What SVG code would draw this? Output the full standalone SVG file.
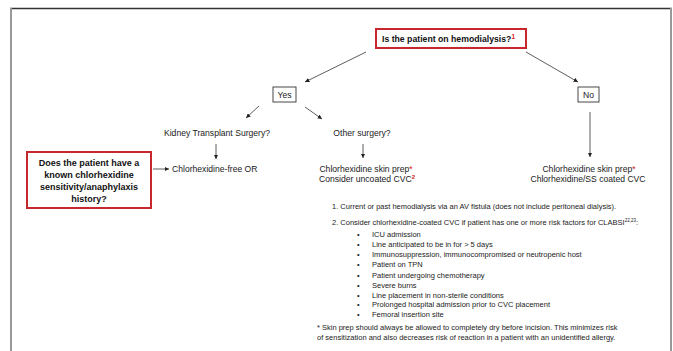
<svg xmlns="http://www.w3.org/2000/svg" width="673" height="351" viewBox="0 0 673 351">
<style>
.t{font-family:"Liberation Sans",Arial,sans-serif;font-size:8.6px;fill:#1a1a1a}
.b{font-family:"Liberation Sans",Arial,sans-serif;font-weight:bold;fill:#111}
.f{font-family:"Liberation Sans",Arial,sans-serif;font-size:7.5px;fill:#222}
.red{fill:#d42020}
.sup{font-size:5.5px}
.conn line{stroke:#333;stroke-width:0.8}
.box{fill:#fff;stroke:#333;stroke-width:0.9}
.rbox{fill:#fff;stroke:#c8282d;stroke-width:2}
</style>
<defs>
<marker id="ah" viewBox="0 0 6 6" refX="6" refY="3" markerWidth="4.5" markerHeight="4.5" markerUnits="userSpaceOnUse" orient="auto">
<path d="M0,0 L6,3 L0,6 z" fill="#222"/>
</marker>
</defs>
<g id="frame">
<line x1="10" y1="8.5" x2="672" y2="8.5" stroke="#333" stroke-width="1.3"/>
<line x1="11" y1="8" x2="11" y2="351" stroke="#999" stroke-width="2"/>
<line x1="671" y1="8" x2="671" y2="351" stroke="#999" stroke-width="2"/>
</g>
<g class="conn" id="connectors">
<line x1="366" y1="52" x2="305" y2="82" marker-end="url(#ah)"/>
<line x1="526" y1="52" x2="578" y2="82" marker-end="url(#ah)"/>
<line x1="259" y1="106" x2="246" y2="118" marker-end="url(#ah)"/>
<line x1="305" y1="107" x2="322" y2="119" marker-end="url(#ah)"/>
<line x1="216" y1="144" x2="216" y2="159" marker-end="url(#ah)"/>
<line x1="363" y1="144" x2="363" y2="158" marker-end="url(#ah)"/>
<line x1="590" y1="112" x2="590" y2="157" marker-end="url(#ah)"/>
<line x1="153" y1="169" x2="169" y2="169" marker-end="url(#ah)"/>
</g>
<g id="q-hemodialysis">
<rect class="rbox" x="376" y="29" width="150" height="19"/>
<text class="b" x="382" y="42" font-size="8.7">Is the patient on hemodialysis?<tspan class="red" font-size="6.5" dy="-3">1</tspan></text>
</g>
<g id="yes">
<rect class="box" x="273" y="87" width="23" height="15"/>
<text class="t" x="284.5" y="97.5" text-anchor="middle">Yes</text>
</g>
<g id="no">
<rect class="box" x="578" y="87" width="21" height="15"/>
<text class="t" x="588.5" y="97.5" text-anchor="middle">No</text>
</g>
<g id="kidney">
<text class="t" x="217" y="135.5" text-anchor="middle">Kidney Transplant Surgery?</text>
</g>
<g id="other">
<text class="t" x="362" y="135.5" text-anchor="middle">Other surgery?</text>
</g>
<g id="q-allergy">
<rect class="rbox" x="27" y="152" width="124" height="56"/>
<text class="b" font-size="9" text-anchor="middle" x="89" y="166">Does the patient have a</text>
<text class="b" font-size="9" text-anchor="middle" x="89" y="178">known chlorhexidine</text>
<text class="b" font-size="9" text-anchor="middle" x="89" y="190">sensitivity/anaphylaxis</text>
<text class="b" font-size="9" text-anchor="middle" x="89" y="202">history?</text>
</g>
<g id="chx-free">
<text class="t" x="172" y="172">Chlorhexidine-free OR</text>
</g>
<g id="other-result">
<text class="t" x="366" y="171.5" text-anchor="middle">Chlorhexidine skin prep<tspan class="red">*</tspan></text>
<text class="t" x="367" y="182" text-anchor="middle">Consider uncoated CVC<tspan class="red" font-size="6" font-weight="bold" dy="-3">2</tspan></text>
</g>
<g id="no-result">
<text class="t" x="589" y="171.5" text-anchor="middle">Chlorhexidine skin prep<tspan class="red">*</tspan></text>
<text class="t" x="588" y="182" text-anchor="middle">Chlorhexidine/SS coated CVC</text>
</g>
<g id="notes">
<text class="f" x="332" y="208.5">1. Current or past hemodialysis via an AV fistula (does not include peritoneal dialysis).</text>
<text class="f" x="332" y="224.5">2. Consider chlorhexidine-coated CVC if patient has one or more risk factors for CLABSI<tspan font-size="4.5" dy="-2.5">22,23</tspan><tspan dy="2.5">:</tspan></text>
<g class="f">
<text x="357" y="236.5">•</text><text class="f" x="372" y="236.5">ICU admission</text>
<text x="357" y="246.5">•</text><text class="f" x="372" y="246.5">Line anticipated to be in for &gt; 5 days</text>
<text x="357" y="257">•</text><text class="f" x="372" y="257">Immunosuppression, immunocompromised or neutropenic host</text>
<text x="357" y="267">•</text><text class="f" x="372" y="267">Patient on TPN</text>
<text x="357" y="277.5">•</text><text class="f" x="372" y="277.5">Patient undergoing chemotherapy</text>
<text x="357" y="287.5">•</text><text class="f" x="372" y="287.5">Severe burns</text>
<text x="357" y="297.5">•</text><text class="f" x="372" y="297.5">Line placement in non-sterile conditions</text>
<text x="357" y="307">•</text><text class="f" x="372" y="307">Prolonged hospital admission prior to CVC placement</text>
<text x="357" y="317">•</text><text class="f" x="372" y="317">Femoral insertion site</text>
</g>
<text class="f" x="317" y="329.5">* Skin prep should always be allowed to completely dry before incision. This minimizes risk</text>
<text class="f" x="317" y="340">of sensitization and also decreases risk of reaction in a patient with an unidentified allergy.</text>
</g>
</svg>
